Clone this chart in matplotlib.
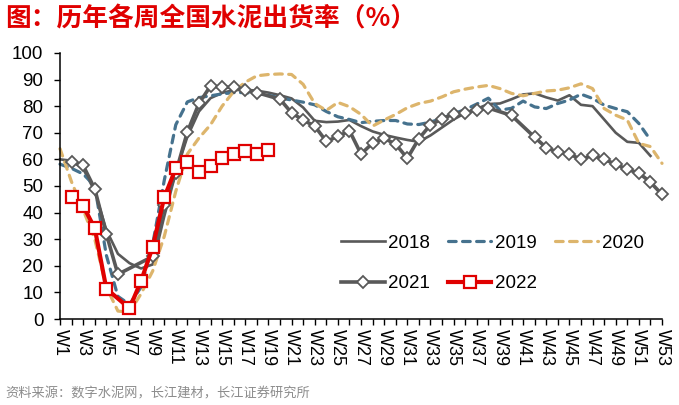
import matplotlib
matplotlib.use("Agg")
import matplotlib.pyplot as plt

plt.rcParams['font.family'] = ['Liberation Sans', 'Noto Sans CJK SC', 'DejaVu Sans']

# weekly cement shipment rate (%)
weeks_2018 = list(range(1, 53))
rate_2018 = [60, 59.5, 56.5, 48, 33.5, 24.5, 21, 19, 20.5, 38.5,
             55, 68.5, 78, 83, 85, 86, 86.2, 85.8, 85.1, 84.1,
             82.9, 79.5, 74.5, 74, 74.2, 74.8, 72.5, 70.5, 69.2, 68.2,
             67.3, 66.6, 69, 72, 75, 77.4, 79, 80.8, 81, 82.6,
             84.4, 84.8, 83.3, 82.1, 84.1, 80.5, 80, 75, 70, 66.6,
             66.2, 61.3]

weeks_2019 = list(range(1, 53))
rate_2019 = [58.2, 56.6, 54.5, 50, 24, 8.5, 5.5, 12, 28, 52,
             73, 81.6, 83.2, 83.9, 84.6, 85.1, 85.1, 84.7, 84.1, 83.1,
             82.3, 81.5, 80.5, 78, 76, 75, 73.8, 74.3, 74.6, 74.6,
             73.3, 73.1, 74, 75.4, 77.2, 78.7, 80.8, 83, 78.5, 79.2,
             81.9, 79.7, 79.1, 81, 82.3, 84.5, 82.9, 80.4, 79.1, 77.9,
             73.5, 67.3]

weeks_2020 = list(range(1, 54))
rate_2020 = [64, 51.5, 41, 30, 12, 3, 2.5, 9.5, 18, 31,
             48, 62, 68, 73, 80, 85.5, 89, 91.4, 91.9, 92.1,
             91.9, 88.2, 81, 78.4, 81.4, 79.8, 76.9, 72.5, 74.8, 76.9,
             79.4, 81, 81.9, 83.5, 85.4, 86.4, 87.2, 87.8, 86.6, 84.8,
             83.9, 84.8, 85.7, 86, 86.9, 88.4, 86.6, 79.1, 76.6, 74.8,
             66, 64.8, 58.5]

weeks_2021 = [2, 3, 4, 5, 6, 9, 10, 11, 12, 13, 14, 15, 16, 17, 18,
              20, 21, 22, 23, 24, 25, 26, 27, 28, 29, 30, 31, 32, 33, 34,
              35, 36, 37, 38, 40, 42, 43, 44, 45, 46, 47, 48, 49, 50, 51,
              52, 53]
rate_2021 = [59, 57.7, 48.9, 32, 16.8, 23.5, 43, 55, 70.3, 81, 87.6, 87.1, 87.1, 86, 85.1,
             82.6, 77.5, 74.75, 72.5, 66.8, 68.6, 70.8, 62, 66.1, 67.9, 65.7, 60.4, 67.8, 73, 75.2,
             77.1, 77.5, 78.6, 79.3, 76.5, 68.3, 64.4, 62.7, 62, 60, 61.5, 60, 58.2, 56.2, 54.9,
             51.4, 46.8]

weeks_2022 = [2, 3, 4, 5, 7, 8, 9, 10, 11, 12, 13, 14, 15, 16, 17, 18, 19]
rate_2022 = [45.8, 42.5, 34.1, 11.4, 4, 14.3, 27, 45.7, 56.6, 59.1, 55.3, 57.5, 60.6,
             62, 63, 62, 63.6]

all_weeks = list(range(1, 54))
week_labels = [f"W{w}" if w % 2 == 1 else "" for w in all_weeks]

fig = plt.figure(figsize=(6.79, 4.05), dpi=100)
ax = fig.add_axes([0.0884, 0.2123, 0.8866, 0.657])

l18, = ax.plot(weeks_2018, rate_2018, color='#595959', lw=1.9, clip_on=False)
l19, = ax.plot(weeks_2019, rate_2019, color='#46728E', lw=2.3, ls=(0, (2.4, 2.0)),
               dash_capstyle='round', clip_on=False)
l20, = ax.plot(weeks_2020, rate_2020, color='#DDB56C', lw=2.3, ls=(0, (2.4, 2.0)),
               dash_capstyle='round', clip_on=False)
l21, = ax.plot(weeks_2021, rate_2021, color='#595959', lw=2.6, marker='D', ms=5.8,
               mfc='white', mec='#595959', mew=1.3, clip_on=False)
l22, = ax.plot(weeks_2022, rate_2022, color='#E00000', lw=3.0, marker='s', ms=8,
               mfc='white', mec='#E00000', mew=1.6, clip_on=False, zorder=5)

ax.set_xlim(1, 53)
ax.set_ylim(0, 100)
ax.set_yticks(range(0, 101, 10))
ax.set_xticks(all_weeks)
ax.set_xticklabels(week_labels, rotation=-90, fontsize=13)
ax.tick_params(axis='y', labelsize=13.5, length=4, width=1, pad=8)
ax.tick_params(axis='x', length=4, width=1, pad=3)
for s in ['top', 'right']:
    ax.spines[s].set_visible(False)
for s in ['left', 'bottom']:
    ax.spines[s].set_linewidth(1.1)

handles = [l18, l21, l19, l22, l20]
labels = ['2018', '2021', '2019', '2022', '2020']
ax.legend(handles, labels, ncol=3, loc='upper left', bbox_to_anchor=(0.455, 0.345),
          frameon=False, fontsize=13.5, handlelength=2.3, handletextpad=0.2,
          columnspacing=0.95, labelspacing=1.25, borderaxespad=0)

fig.text(0.008, 0.953, "图：历年各周全国水泥出货率（%）", color='#E00000', fontsize=18.5,
         fontweight='bold', va='center', ha='left', family=['Noto Sans CJK SC'])
fig.text(0.008, 0.027, "资料来源：数字水泥网，长江建材，长江证券研究所", color='#8C8C8C',
         fontsize=9.5, va='center', ha='left', family=['Noto Sans CJK SC'])

fig.savefig("out.png", dpi=100)
